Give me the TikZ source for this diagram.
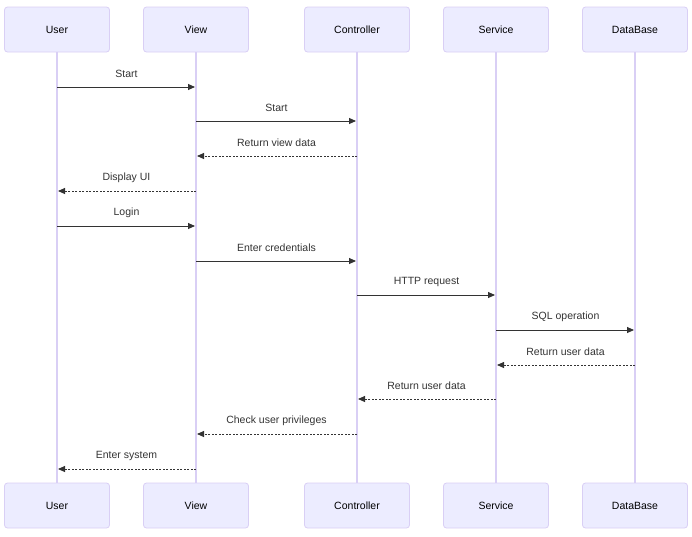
\documentclass[tikz,border=0pt]{standalone}
\usepackage{fontspec}
\setmainfont{Liberation Sans}
\usetikzlibrary{arrows.meta}
\definecolor{actorfill}{HTML}{ECECFF}
\definecolor{actorline}{HTML}{D9CFF5}
\definecolor{msgcol}{HTML}{333333}
\begin{document}
\begin{tikzpicture}[x=1pt,y=-1pt,
  actor/.style={draw=actorline, fill=actorfill, rounded corners=3pt, line width=0.8pt,
    minimum width=105pt, minimum height=45pt, inner sep=0pt, font=\fontsize{10.5}{12}\selectfont},
  life/.style={draw=actorline, line width=1.1pt},
  msg/.style={draw=msgcol, line width=0.9pt, -{Triangle[length=7pt,width=6pt]}, shorten >=1pt},
  reply/.style={msg, dash pattern=on 2pt off 1.5pt},
  lbl/.style={font=\fontsize{10.5}{12}\selectfont, text=msgcol, inner sep=0pt}]
\useasboundingbox (0,0) rectangle (692,536);

% participants, top and bottom
\foreach \n/\t/\x in {U/User/57, V/View/196, C/Controller/357, S/Service/496, D/DataBase/635}{
  \node[actor] (\n top) at (\x,29.5) {\t};
  \node[actor] (\n bot) at (\x,505.5) {\t};
  \draw[life] (\n top.south) -- (\n bot.north);
}

% messages: from, to, y, label, style
\foreach \a/\b/\y/\t/\s in {
  U/V/87/Start/msg,
  V/C/121/Start/msg,
  C/V/156/Return view data/reply,
  V/U/191/Display UI/reply,
  U/V/226/Login/msg,
  V/C/261/Enter credentials/msg,
  C/S/295/HTTP request/msg,
  S/D/330/SQL operation/msg,
  D/S/365/Return user data/reply,
  S/C/399/Return user data/reply,
  C/V/434/Check user privileges/reply,
  V/U/469/Enter system/reply}{
  \coordinate (p\a) at (\a top.south |- 0,\y);
  \coordinate (q\b) at (\b top.south |- 0,\y);
  \draw[\s] (p\a) -- (q\b) node[lbl, midway, yshift=13pt] {\t};
}
\end{tikzpicture}
\end{document}
